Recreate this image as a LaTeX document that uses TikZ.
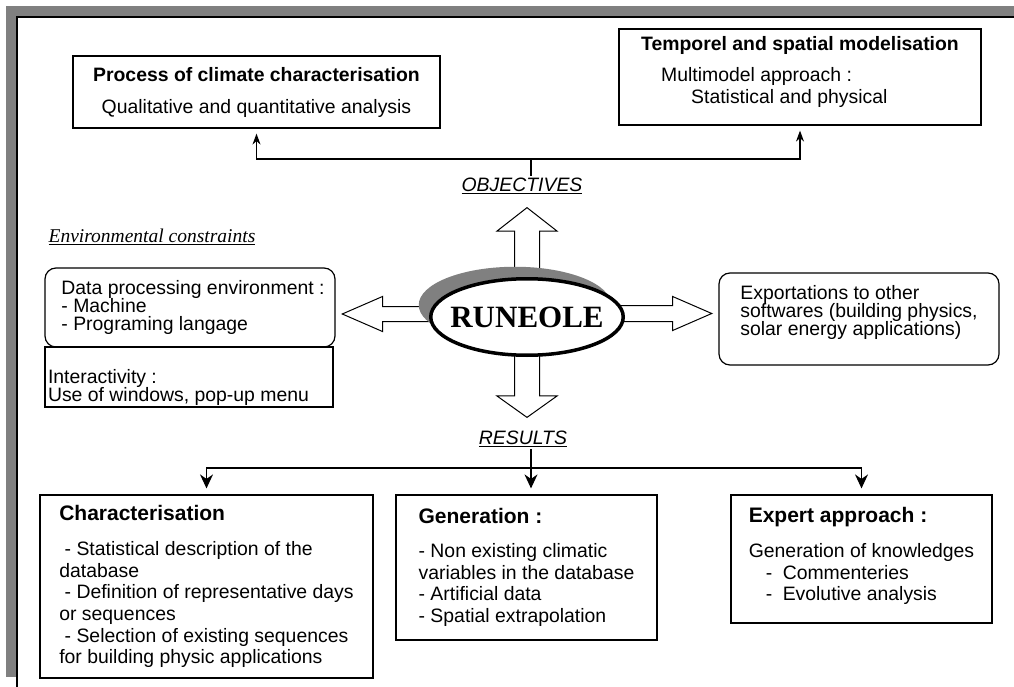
\documentclass[tikz,border=0pt]{standalone}
\usepackage{fontspec}
\setmainfont{Liberation Serif}
\setsansfont{Liberation Sans}
\usepackage{xcolor}
\usetikzlibrary{positioning,arrows.meta,shapes.geometric,shapes.arrows,shadows}
\definecolor{framegray}{RGB}{128,128,128}
\newcommand{\linesat}[1]{\sffamily\fontsize{19.4}{#1}\selectfont\lineskiplimit-50pt\relax}

\begin{document}
\begin{tikzpicture}[x=1pt,y=-1pt,line width=1.2pt,node distance=60pt,
    font=\sffamily\fontsize{19.4}{21.6}\selectfont,
    conn/.style={-{Stealth[length=11pt,width=8pt]},shorten >=5pt},
    bconn/.style={-{Stealth[length=14pt,width=13pt]},shorten >=6pt},
    elbow/.style={to path={-| (\tikztotarget)}}]
  \tikzstyle{sbox}=[draw,rectangle,align=left,inner sep=0pt]
  \tikzstyle{rbox}=[sbox,rounded corners=11pt]
  \tikzstyle{lbl}=[inner sep=2pt]
  \tikzstyle{bigarr}=[single arrow,draw,fill=white,line width=1pt,inner xsep=0pt,anchor=tip]

  \useasboundingbox (0,0) rectangle (1014,687);
  \fill[framegray] (6,6) rectangle (1014,16.5);
  \fill[framegray] (6,6) rectangle (16.5,677);
  \draw[line width=1.5pt] (17,687) -- (17,17) -- (1014,17);

  \node[sbox,align=center,minimum width=367pt,minimum height=72pt] (proc) at (256.5,92)
    {{\bfseries Process of climate characterisation}\\[10.4pt]Qualitative and quantitative analysis};
  \node[sbox,minimum width=362pt,minimum height=96pt] (temp) at (800,77)
    {{\bfseries Temporel and spatial modelisation}\\[9.4pt]\hspace*{20pt}Multimodel approach :\\\hspace*{50pt}Statistical and physical\\[-7.5pt]\mbox{}};

  \node[bigarr,rotate=90,minimum height=93pt,inner ysep=12pt,single arrow head extend=17.5pt,single arrow tip angle=104] (aup) at (527,207) {};
  \node[bigarr,rotate=-90,minimum height=88pt,inner ysep=12pt,single arrow head extend=17.5pt,single arrow tip angle=109] (adown) at (527,418) {};
  \node[bigarr,rotate=180,minimum height=109pt,inner ysep=7pt,single arrow head extend=10pt,single arrow tip angle=47] (aleft) at (341,314) {};
  \node[bigarr,minimum height=113pt,inner ysep=7.5pt,single arrow head extend=9pt,single arrow tip angle=47] (aright) at (713,313.5) {};

  \node[ellipse,draw,fill=white,line width=3.5pt,minimum width=192.5pt,minimum height=76.5pt,inner sep=0pt,
        drop shadow={shadow xshift=-12pt,shadow yshift=12pt,fill=framegray,opacity=1}] (run) at (527,317)
    {\makebox[0pt]{\rmfamily\fontsize{31}{31}\selectfont\bfseries RUNEOLE}};
  \node[lbl] (obj) [above of=run,node distance=131pt,xshift=-5pt] {\underline{\itshape OBJECTIVES}};
  \node[lbl] (res) [below of=run,node distance=121.5pt,xshift=-4pt] {\underline{\itshape RESULTS}};

  \node[rbox,font=\linesat{18},minimum width=290pt,minimum height=79pt] (data) at (190,307.5)
    {\hspace*{6pt}Data processing environment :\\\hspace*{6pt}- Machine\\\hspace*{6pt}- Programing langage};
  \node[lbl] (env) [above of=data,node distance=70.5pt,xshift=-38pt]
    {\rmfamily\fontsize{19.5}{21}\selectfont\underline{\itshape Environmental constraints}};
  \node[sbox,font=\linesat{18},minimum width=288pt,minimum height=60pt] (inter) [below of=data,node distance=69.5pt,xshift=-1pt]
    {\mbox{}\\[17.1pt]Interactivity :\\Use of windows, pop-up menu\hspace*{21pt}};
  \node[rbox,font=\linesat{18},minimum width=280pt,minimum height=92pt] (expo) at (859,319)
    {Exportations to other\\softwares (building physics,\\solar energy applications)\\\mbox{}};

  \node[sbox,minimum width=333pt,minimum height=183pt] (char) at (206.5,586.5)
    {{\fontsize{21}{23}\selectfont\bfseries Characterisation}\\[13.4pt]
     \hspace*{5.4pt}- Statistical description of the\\
     database\\
     \hspace*{5.4pt}- Definition of representative days\hspace*{17pt}\\
     or sequences\\
     \hspace*{5.4pt}- Selection of existing sequences\\
     for building physic applications};
  \node[sbox,minimum width=261pt,minimum height=145pt] (gen) at (526.5,567.5)
    {{\fontsize{21}{23}\selectfont\bfseries Generation :}\\[12.4pt]
     - Non existing climatic\\
     variables in the database\hspace*{12pt}\\
     - Artificial data\\
     - Spatial extrapolation};
  \node[sbox,minimum width=261pt,minimum height=128pt] (exp) at (861.5,559)
    {{\fontsize{21}{23}\selectfont\bfseries Expert approach :}\\[13.4pt]
     Generation of knowledges\hspace*{5.6pt}\\
     \hspace*{17pt}-\hspace*{10.5pt}Commenteries\\
     \hspace*{17pt}-\hspace*{10.5pt}Evolutive analysis\\[-11.6pt]\mbox{}};

  \coordinate (topj) at (531,159);
  \coordinate (botj) at (531,468);

  \draw (topj) -- (topj |- obj.north);
  \path[conn]
  (topj) edge [elbow] (proc)
         edge [elbow] (temp);
  \draw (res.south -| botj) -- (botj);
  \path[bconn]
  (botj) edge [elbow] (char)
         edge          (botj |- gen.north)
         edge [elbow] (exp);
\end{tikzpicture}
\end{document}
